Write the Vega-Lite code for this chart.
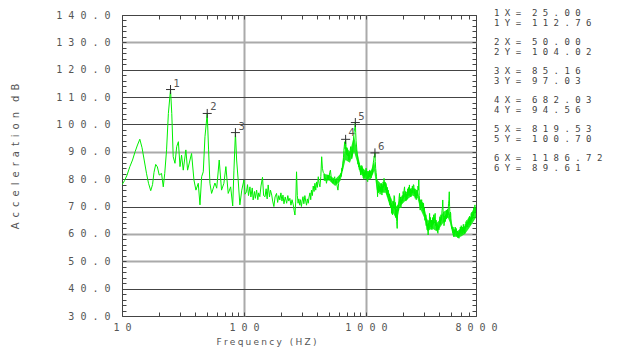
{
  "$schema": "https://vega.github.io/schema/vega-lite/v6.json",
  "width": 354,
  "height": 301,
  "autosize": {"type": "none"},
  "padding": {"left": 122, "top": 15, "right": 141, "bottom": 34},
  "background": "white",
  "config": {"view": {"stroke": "#444", "strokeWidth": 1}},
  "datasets": {
    "spectrum": [
      {"f":10,"v":78},{"f":10.5,"v":79.5},{"f":11,"v":81.5},{"f":11.6,"v":84.6},{"f":12.2,"v":87},{"f":12.8,"v":90},{"f":13.4,"v":92.5},{"f":14,"v":94.6},{"f":14.6,"v":91.5},{"f":15.2,"v":87},{"f":15.9,"v":82},{"f":16.5,"v":78.5},{"f":17.2,"v":75.8},{"f":17.8,"v":78},{"f":18.3,"v":82.5},{"f":18.9,"v":85.4},{"f":19.5,"v":84.5},{"f":20.2,"v":81.5},{"f":21.1,"v":82.1},{"f":21.8,"v":77.2},{"f":22.4,"v":82},{"f":23.2,"v":90.7},{"f":24,"v":104},{"f":25,"v":112.76},{"f":25.6,"v":104},{"f":26.3,"v":88.2},{"f":27.2,"v":85.8},{"f":28.1,"v":91.9},{"f":29,"v":93.7},{"f":29.9,"v":84.6},{"f":30.8,"v":88.8},{"f":31.8,"v":83.3},{"f":33.4,"v":90.7},{"f":34.5,"v":83.3},{"f":36.1,"v":87},{"f":37.2,"v":89.4},{"f":38.9,"v":79.7},{"f":40.4,"v":76},{"f":42.2,"v":78.5},{"f":43.6,"v":70.6},{"f":45,"v":80.9},{"f":46.4,"v":82.7},{"f":47.9,"v":95.5},{"f":50,"v":104.02},{"f":51.3,"v":90.7},{"f":52.6,"v":78.5},{"f":54.3,"v":74.8},{"f":57.8,"v":78.6},{"f":59.8,"v":76.7},{"f":62.7,"v":87},{"f":65.5,"v":76},{"f":68.5,"v":78.5},{"f":71.1,"v":84.6},{"f":74.3,"v":74.8},{"f":77.8,"v":77.2},{"f":80.9,"v":70.2},{"f":82.8,"v":83.3},{"f":85.16,"v":97.03},{"f":87.1,"v":87},{"f":89.7,"v":79.7},{"f":92.6,"v":70.6},{"f":96,"v":76},
      {"f":100,"v":79.7},{"f":102,"v":74.5},{"f":105,"v":75.4},{"f":107,"v":78},{"f":109,"v":74},{"f":112,"v":77.2},{"f":114,"v":73.5},{"f":117,"v":76.8},{"f":119,"v":72.4},{"f":122,"v":75.5},{"f":124,"v":73},{"f":127,"v":76},{"f":130,"v":72.5},{"f":132,"v":75},{"f":135,"v":73.6},{"f":138,"v":77.5},{"f":142,"v":80.7},{"f":145,"v":74},{"f":149,"v":73.6},{"f":152,"v":76.5},{"f":155,"v":72.8},{"f":158,"v":77.9},{"f":162,"v":73.5},{"f":165,"v":76},{"f":169,"v":74.2},{"f":172,"v":72},{"f":176,"v":70},{"f":180,"v":73.5},{"f":185,"v":74.8},{"f":189,"v":71.5},{"f":193,"v":74},{"f":197,"v":72.4},{"f":201,"v":75},{"f":205,"v":72},{"f":209,"v":74.2},{"f":213,"v":71},{"f":218,"v":73.5},{"f":224,"v":71.2},{"f":229,"v":74},{"f":233,"v":72},{"f":238,"v":73},{"f":243,"v":70.5},{"f":248,"v":72.5},{"f":254,"v":70.6},{"f":258,"v":68.5},{"f":262,"v":66.9},{"f":266,"v":72},{"f":270,"v":82.7},{"f":274,"v":74},{"f":278,"v":71.2},{"f":282,"v":72.8},{"f":287,"v":70.5},{"f":291,"v":72.5},{"f":296,"v":70},{"f":300,"v":72},{"f":305,"v":73.6},{"f":310,"v":71},{"f":316,"v":74},{"f":321,"v":72},{"f":326,"v":70.5},{"f":331,"v":72.8},{"f":337,"v":71.2},{"f":342,"v":73.5},{"f":348,"v":75},{"f":353,"v":72.5},{"f":358,"v":76},{"f":364,"v":74},{"f":370,"v":77.5},{"f":376,"v":75.5},{"f":382,"v":78.5},{"f":388,"v":76},{"f":394,"v":79},{"f":400,"v":77},{"f":407,"v":80.9},{"f":413,"v":78.5},{"f":420,"v":77.2},{"f":427,"v":81},{"f":434,"v":88.2},{"f":440,"v":84},{"f":447,"v":82.5},{"f":454,"v":82.1},{"f":461,"v":79.5},{"f":468,"v":80.5},{"f":475,"v":78.5},{"f":482,"v":80},{"f":490,"v":81.5},{"f":497,"v":80},{"f":505,"v":82.5},{"f":512,"v":83.3},{"f":520,"v":80.5},{"f":528,"v":79},{"f":537,"v":78.5},{"f":545,"v":80},{"f":555,"v":80.9},{"f":563,"v":78.5},{"f":572,"v":79.5},{"f":581,"v":77.5},{"f":590,"v":76},{"f":598,"v":78.5},{"f":606,"v":80.5},{"f":614,"v":81},{"f":621,"v":82.1},{"f":628,"v":81},{"f":635,"v":84},{"f":642,"v":83},{"f":648,"v":85.8},{"f":655,"v":88},{"f":660,"v":90.5},{"f":665,"v":92},{"f":671,"v":93.7},{"f":676,"v":91},{"f":682.03,"v":94.56},{"f":688,"v":92},{"f":694,"v":89},{"f":700,"v":91.5},{"f":705,"v":90.7},{"f":712,"v":88.5},{"f":718,"v":89.5},{"f":727,"v":87},{"f":735,"v":89},{"f":743,"v":90.5},{"f":751,"v":91.9},{"f":758,"v":90},{"f":766,"v":87.5},{"f":776,"v":88.8},{"f":782,"v":91},{"f":790,"v":94},{"f":796,"v":96},{"f":801,"v":97.4},{"f":807,"v":98.5},{"f":813,"v":99},{"f":819.53,"v":100.7},{"f":825,"v":97},{"f":831,"v":94},{"f":837,"v":92.5},{"f":843,"v":90.7},{"f":850,"v":89},{"f":856,"v":88},{"f":862,"v":85.5},{"f":866,"v":87},{"f":872,"v":84.5},{"f":878,"v":86},{"f":884,"v":83.5},{"f":890,"v":85},{"f":900,"v":83.3},{"f":906,"v":81.5},{"f":912,"v":84},{"f":918,"v":82.5},{"f":924,"v":85},{"f":934,"v":84.6},{"f":940,"v":82},{"f":946,"v":83.5},{"f":952,"v":80.5},{"f":958,"v":82.5},{"f":964,"v":80},{"f":970,"v":80.9},{"f":976,"v":82.5},{"f":982,"v":81},{"f":988,"v":83},{"f":994,"v":81.5},{"f":1000,"v":84},{"f":1007,"v":84},{"f":1014,"v":81.5},{"f":1020,"v":82.5},{"f":1027,"v":79.5},{"f":1035,"v":79.1},{"f":1042,"v":81.5},{"f":1050,"v":80.5},{"f":1058,"v":82.5},{"f":1066,"v":80.8},{"f":1073,"v":83.3},{"f":1080,"v":83.3},{"f":1088,"v":81},{"f":1096,"v":82.5},{"f":1104,"v":80.5},{"f":1111,"v":82},{"f":1118,"v":81.5},{"f":1126,"v":83.5},{"f":1134,"v":82},{"f":1142,"v":84.5},{"f":1150,"v":86},{"f":1160,"v":87},{"f":1170,"v":88.5},{"f":1178,"v":88},{"f":1186.72,"v":89.61},{"f":1195,"v":86.5},{"f":1203,"v":84},{"f":1213,"v":82.5},{"f":1223,"v":80.9},{"f":1232,"v":78},{"f":1240,"v":76},{"f":1247,"v":73.6},{"f":1255,"v":77},{"f":1263,"v":75},{"f":1272,"v":78},{"f":1281,"v":75.5},{"f":1290,"v":77.5},{"f":1298,"v":76.7},{"f":1308,"v":74.5},{"f":1318,"v":77},{"f":1328,"v":75.5},{"f":1338,"v":78.5},{"f":1347,"v":75},{"f":1355,"v":74.2},{"f":1365,"v":77.5},{"f":1375,"v":75.5},{"f":1385,"v":79},{"f":1397,"v":77},{"f":1409,"v":80.3},{"f":1420,"v":77.5},{"f":1432,"v":79},{"f":1444,"v":76},{"f":1458,"v":78.5},{"f":1472,"v":77.2},{"f":1485,"v":74.5},{"f":1498,"v":77},{"f":1512,"v":73.5},{"f":1523,"v":76},{"f":1534,"v":74.8},{"f":1548,"v":72},{"f":1560,"v":74.5},{"f":1573,"v":70.5},{"f":1586,"v":73},{"f":1600,"v":69.5},{"f":1613,"v":71.2},{"f":1626,"v":67.5},{"f":1640,"v":70.5},{"f":1652,"v":67},{"f":1664,"v":68.7},{"f":1678,"v":72},{"f":1690,"v":70},{"f":1704,"v":74},{"f":1718,"v":73.6},{"f":1732,"v":69},{"f":1746,"v":71.5},{"f":1760,"v":66},{"f":1775,"v":69},{"f":1790,"v":64.5},{"f":1806,"v":62},{"f":1820,"v":67},{"f":1836,"v":70.5},{"f":1852,"v":68.5},{"f":1870,"v":73},{"f":1888,"v":74.8},{"f":1904,"v":71.5},{"f":1920,"v":73.5},{"f":1936,"v":69.5},{"f":1952,"v":72.5},{"f":1970,"v":71.2},{"f":1988,"v":74},{"f":2005,"v":72},{"f":2022,"v":75.5},{"f":2040,"v":73},{"f":2058,"v":76},{"f":2075,"v":77.2},{"f":2094,"v":73.5},{"f":2112,"v":75.5},{"f":2130,"v":72},{"f":2150,"v":74.5},{"f":2168,"v":72.5},{"f":2186,"v":73.6},{"f":2205,"v":76.5},{"f":2222,"v":74},{"f":2240,"v":77},{"f":2258,"v":75},{"f":2275,"v":77.9},{"f":2295,"v":74},{"f":2316,"v":76.5},{"f":2338,"v":73.5},{"f":2360,"v":76},{"f":2383,"v":74.8},{"f":2405,"v":77.5},{"f":2428,"v":75},{"f":2450,"v":78},{"f":2472,"v":77.9},{"f":2495,"v":74.5},{"f":2518,"v":76.5},{"f":2540,"v":73},{"f":2565,"v":75.5},{"f":2588,"v":72.5},{"f":2600,"v":73.6},{"f":2625,"v":76},{"f":2650,"v":74},{"f":2675,"v":77.5},{"f":2700,"v":76},{"f":2716,"v":79.7},{"f":2740,"v":74},{"f":2765,"v":71},{"f":2790,"v":68.7},{"f":2815,"v":72.5},{"f":2840,"v":70},{"f":2868,"v":72.5},{"f":2895,"v":69.5},{"f":2920,"v":71.5},{"f":2945,"v":68.5},{"f":2970,"v":71.2},{"f":2995,"v":67.5},{"f":3020,"v":69.5},{"f":3045,"v":65},{"f":3070,"v":65.1},{"f":3100,"v":67},{"f":3125,"v":63},{"f":3150,"v":65.5},{"f":3180,"v":61.5},{"f":3210,"v":63.5},{"f":3240,"v":59.6},{"f":3270,"v":64},{"f":3300,"v":62},{"f":3330,"v":67.5},{"f":3360,"v":64},{"f":3390,"v":66},{"f":3420,"v":62.5},{"f":3450,"v":65},{"f":3480,"v":61.5},{"f":3500,"v":62.6},{"f":3535,"v":66},{"f":3570,"v":63.5},{"f":3600,"v":67},{"f":3635,"v":64},{"f":3670,"v":66.5},{"f":3700,"v":67.5},{"f":3735,"v":63},{"f":3770,"v":65},{"f":3805,"v":61.5},{"f":3840,"v":63.5},{"f":3870,"v":60.5},{"f":3900,"v":60.2},{"f":3935,"v":63},{"f":3970,"v":61.5},{"f":4005,"v":64.5},{"f":4050,"v":66.3},{"f":4090,"v":63.5},{"f":4130,"v":67},{"f":4170,"v":65},{"f":4210,"v":68.5},{"f":4250,"v":70},{"f":4270,"v":72.4},{"f":4300,"v":68},{"f":4340,"v":66},{"f":4370,"v":63},{"f":4400,"v":63.9},{"f":4440,"v":66.5},{"f":4480,"v":64.5},{"f":4520,"v":67},{"f":4560,"v":65.5},{"f":4600,"v":68.7},{"f":4640,"v":66},{"f":4680,"v":69},{"f":4720,"v":67},{"f":4760,"v":71},{"f":4800,"v":72.5},{"f":4830,"v":75.4},{"f":4860,"v":70},{"f":4900,"v":66},{"f":4930,"v":68},{"f":4960,"v":67.5},{"f":5000,"v":64},{"f":5050,"v":62},{"f":5100,"v":62.6},{"f":5140,"v":60.5},{"f":5180,"v":62.5},{"f":5220,"v":59.5},{"f":5270,"v":59},{"f":5310,"v":61.5},{"f":5360,"v":60},{"f":5400,"v":62.5},{"f":5450,"v":60.5},{"f":5500,"v":62},{"f":5540,"v":61.4},{"f":5590,"v":59},{"f":5640,"v":61},{"f":5690,"v":58.5},{"f":5740,"v":60.5},{"f":5800,"v":58.4},{"f":5850,"v":61.5},{"f":5900,"v":60},{"f":5950,"v":62.5},{"f":6000,"v":60.5},{"f":6050,"v":63},{"f":6100,"v":62},{"f":6150,"v":60},{"f":6200,"v":62.5},{"f":6250,"v":61},{"f":6300,"v":63.5},{"f":6350,"v":60.5},{"f":6400,"v":62.5},{"f":6440,"v":61},{"f":6480,"v":60.2},{"f":6530,"v":63.5},{"f":6580,"v":62},{"f":6630,"v":64.5},{"f":6680,"v":62.5},{"f":6740,"v":65},{"f":6800,"v":64.4},{"f":6850,"v":62.5},{"f":6900,"v":65.5},{"f":6950,"v":63.5},{"f":7000,"v":66},{"f":7050,"v":64},{"f":7100,"v":66.5},{"f":7150,"v":63.2},{"f":7200,"v":66},{"f":7260,"v":64.5},{"f":7310,"v":67.5},{"f":7360,"v":65},{"f":7410,"v":68},{"f":7450,"v":67.5},{"f":7500,"v":65.5},{"f":7560,"v":68.5},{"f":7610,"v":66.5},{"f":7670,"v":69.5},{"f":7730,"v":67.5},{"f":7790,"v":70},{"f":7850,"v":70.6},{"f":7900,"v":68},{"f":7950,"v":69.5},{"f":8000,"v":68}
    ],
    "band": [
      {"f":450,"lo":79.5,"hi":82},{"f":500,"lo":79.5,"hi":81.5},{"f":560,"lo":77.5,"hi":80},{"f":620,"lo":79.5,"hi":82},{"f":680,"lo":87,"hi":92},{"f":740,"lo":86,"hi":90},{"f":800,"lo":90,"hi":96},{"f":850,"lo":86,"hi":90},{"f":900,"lo":82,"hi":85},{"f":1000,"lo":80,"hi":83},{"f":1100,"lo":80,"hi":83},{"f":1170,"lo":83,"hi":87},{"f":1230,"lo":76,"hi":80},{"f":1350,"lo":75,"hi":78},{"f":1450,"lo":75,"hi":79},{"f":1550,"lo":71,"hi":75},{"f":1650,"lo":68,"hi":72},{"f":1800,"lo":65,"hi":70},{"f":1900,"lo":70,"hi":73},{"f":2100,"lo":72,"hi":75},{"f":2400,"lo":74,"hi":77},{"f":2650,"lo":73,"hi":76},{"f":2800,"lo":69,"hi":72},{"f":3000,"lo":66,"hi":70},{"f":3200,"lo":61,"hi":65},{"f":3500,"lo":62,"hi":65},{"f":3800,"lo":61,"hi":64},{"f":4000,"lo":62,"hi":65},{"f":4300,"lo":64,"hi":68},{"f":4700,"lo":66,"hi":69},{"f":4900,"lo":64,"hi":67},{"f":5200,"lo":59,"hi":62},{"f":5600,"lo":59,"hi":61},{"f":6000,"lo":59,"hi":62},{"f":6500,"lo":60,"hi":63},{"f":7000,"lo":62,"hi":65},{"f":7500,"lo":64,"hi":67},{"f":8000,"lo":66,"hi":69}
    ],
    "markers": [
      {"id":1,"fx":25.00,"fy":112.76},
      {"id":2,"fx":50.00,"fy":104.02},
      {"id":3,"fx":85.16,"fy":97.03},
      {"id":4,"fx":682.03,"fy":94.56},
      {"id":5,"fx":819.53,"fy":100.70},
      {"id":6,"fx":1186.72,"fy":89.61}
    ]
  },
  "resolve": {"scale": {"y": "independent"}, "axis": {"x": "independent", "y": "independent"}},
  "layer": [
    {
      "data": {"name": "band"},
      "mark": {"type": "area", "color": "#00f000", "opacity": 0.85, "clip": true},
      "encoding": {
        "x": {"field": "f", "type": "quantitative", "scale": {"type": "log", "domain": [10, 8000], "nice": false}, "axis": null},
        "y": {"field": "lo", "type": "quantitative", "scale": {"domain": [30, 140], "nice": false, "zero": false}, "axis": null},
        "y2": {"field": "hi"}
      }
    },
    {
      "data": {"name": "spectrum"},
      "mark": {"type": "line", "color": "#00f000", "strokeWidth": 1, "clip": true},
      "encoding": {
        "x": {"field": "f", "type": "quantitative",
          "scale": {"type": "log", "domain": [10, 8000], "nice": false},
          "axis": {
            "orient": "bottom",
            "values": [10,20,30,40,50,60,70,80,90,100,200,300,400,500,600,700,800,900,1000,2000,3000,4000,5000,6000,7000,8000],
            "labelExpr": "indexof([10,100,1000,8000], datum.value) >= 0 ? join(split(datum.value + '', ''), ' ') : ''",
            "labelFont": "DejaVu Sans Mono", "labelFontSize": 10, "labelColor": "#555",
            "labelPadding": 10, "labelFlush": false, "labelOverlap": false, "labelBound": false,
            "tickSize": -4, "tickColor": "#444", "domain": false,
            "grid": true,
            "gridColor": "#aaa", "gridWidth": 2,
            "gridOpacity": {"condition": {"test": "datum.value == 100 || datum.value == 1000", "value": 1}, "value": 0},
            "title": "F\u2005r\u2005e\u2005q\u2005u\u2005e\u2005n\u2005c\u2005y\u00a0\u00a0\u2005(\u2005H\u2005Z\u2005)",
            "titleFont": "DejaVu Sans", "titleFontSize": 9, "titleFontWeight": "normal", "titleColor": "#555",
            "titleX": 144, "titleY": 25, "titleBaseline": "middle", "titleAlign": "center"
          }
        },
        "y": {"field": "v", "type": "quantitative",
          "scale": {"domain": [30, 140], "nice": false, "zero": false},
          "axis": {
            "orient": "left",
            "values": [30,32,34,36,38,40,42,44,46,48,50,52,54,56,58,60,62,64,66,68,70,72,74,76,78,80,82,84,86,88,90,92,94,96,98,100,102,104,106,108,110,112,114,116,118,120,122,124,126,128,130,132,134,136,138,140],
            "labelExpr": "datum.value % 10 == 0 ? join(split(format(datum.value, '.1f'), ''), ' ') : ''",
            "labelFont": "DejaVu Sans Mono", "labelFontSize": 10, "labelColor": "#555",
            "labelPadding": 16, "labelOverlap": false, "labelBound": false, "labelFlush": false,
            "tickSize": -4, "tickColor": "#444", "domain": false,
            "grid": true,
            "gridColor": {"condition": {"test": "datum.value == 130 || datum.value == 90 || datum.value == 60 || datum.value == 50", "value": "#aaa"}, "value": "#444"},
            "gridWidth": {"condition": {"test": "datum.value == 130 || datum.value == 90 || datum.value == 60 || datum.value == 50", "value": 2}, "value": 1},
            "gridOpacity": {"condition": {"test": "datum.value % 10 != 0 || datum.value == 30 || datum.value == 140", "value": 0}, "value": 1},
            "title": "A\u2002c\u2002c\u2002e\u2002l\u2002e\u2002r\u2002a\u2002t\u2002i\u2002o\u2002n\u2002\u2002d\u2002B",
            "titleFont": "DejaVu Sans", "titleFontSize": 10, "titleFontWeight": "normal", "titleColor": "#555",
            "titleX": -107, "titleY": 141, "titleBaseline": "middle", "titleAlign": "center", "titleAngle": -90
          }
        }
      }
    },
    {
      "data": {"name": "markers"},
      "mark": {"type": "point", "shape": "M-1,0L1,0M0,-1L0,1", "filled": false, "stroke": "#333", "strokeWidth": 1, "size": 81, "opacity": 1},
      "encoding": {
        "x": {"field": "fx", "type": "quantitative",
          "scale": {"type": "log", "domain": [10, 8000], "nice": false},
          "axis": {
            "orient": "top",
            "values": [10,20,30,40,50,60,70,80,90,100,200,300,400,500,600,700,800,900,1000,2000,3000,4000,5000,6000,7000,8000],
            "labels": false, "grid": false, "domain": false, "tickSize": -4, "tickColor": "#444", "title": null
          }
        },
        "y": {"field": "fy", "type": "quantitative",
          "scale": {"domain": [30, 140], "nice": false, "zero": false},
          "axis": {
            "orient": "right",
            "values": [30,32,34,36,38,40,42,44,46,48,50,52,54,56,58,60,62,64,66,68,70,72,74,76,78,80,82,84,86,88,90,92,94,96,98,100,102,104,106,108,110,112,114,116,118,120,122,124,126,128,130,132,134,136,138,140],
            "labels": false, "grid": false, "domain": false, "tickSize": -4, "tickColor": "#444", "title": null
          }
        }
      }
    },
    {
      "data": {"name": "markers"},
      "mark": {"type": "text", "align": "left", "baseline": "middle", "dx": 3, "dy": -6, "font": "DejaVu Sans", "fontSize": 10, "color": "#555"},
      "encoding": {
        "x": {"field": "fx", "type": "quantitative", "scale": {"type": "log", "domain": [10, 8000], "nice": false}, "axis": null},
        "y": {"field": "fy", "type": "quantitative", "scale": {"domain": [30, 140], "nice": false, "zero": false}, "axis": null},
        "text": {"field": "id", "type": "nominal"}
      }
    },
    {
      "data": {"name": "markers"},
      "transform": [
        {"calculate": "[datum.id + ' X =\u00a0\u00a0' + join(split(format(datum.fx, '.2f'), ''), ' '), datum.id + ' Y =\u00a0\u00a0' + join(split(format(datum.fy, '.2f'), ''), ' ')]", "as": "lines"}
      ],
      "mark": {"type": "text", "align": "left", "baseline": "middle", "dx": 18, "dy": -5, "lineHeight": 10, "font": "DejaVu Sans Mono", "fontSize": 9, "color": "#444", "clip": false},
      "encoding": {
        "x": {"datum": 8000, "type": "quantitative", "scale": {"type": "log", "domain": [10, 8000], "nice": false}, "axis": null},
        "y": {"field": "id", "type": "quantitative", "scale": {"domain": [0.8966, 11.2759], "reverse": true, "nice": false, "zero": false}, "axis": null},
        "text": {"field": "lines"}
      }
    }
  ]
}
